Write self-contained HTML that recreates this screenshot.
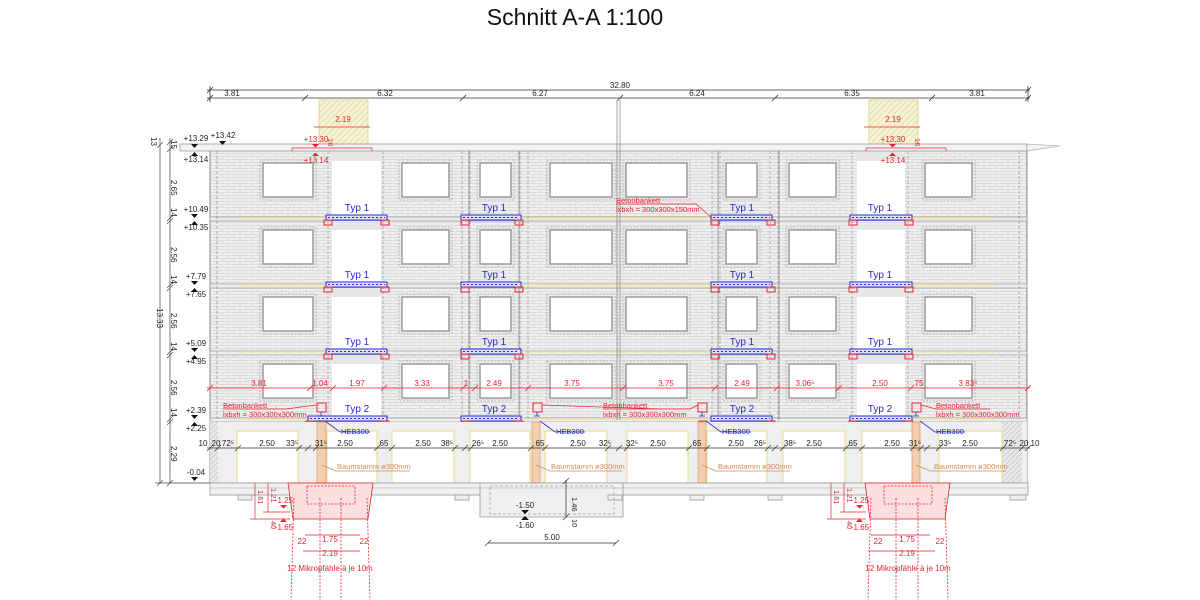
<!DOCTYPE html>
<html><head><meta charset="utf-8"><style>
html,body{margin:0;padding:0;background:#fff;width:1200px;height:600px;overflow:hidden}
svg{display:block;font-family:"Liberation Sans",sans-serif}
</style></head><body>
<svg width="1200" height="600" viewBox="0 0 1200 600" xmlns="http://www.w3.org/2000/svg" xmlns:xlink="http://www.w3.org/1999/xlink">
<defs>
<pattern id="brick" width="12" height="6" patternUnits="userSpaceOnUse">
<rect width="12" height="6" fill="#efefef"/>
<path d="M0 0.5H12M0 3.5H12M6 0.5V3.5M0 3.5V6M12 3.5V6" stroke="#d6d6d6" stroke-width="0.7" fill="none"/>
</pattern>
<pattern id="hatchy" width="6" height="6" patternUnits="userSpaceOnUse">
<rect width="6" height="6" fill="#f6f3d2"/>
<path d="M0 6L6 0" stroke="#d8d2a0" stroke-width="0.6"/>
</pattern>
<pattern id="hatchg" width="5" height="5" patternUnits="userSpaceOnUse">
<rect width="5" height="5" fill="#e8e8e8"/>
<path d="M0 5L5 0" stroke="#bbb" stroke-width="0.6"/>
</pattern>
<g id="wf">
<g fill="none" stroke="#aaa" stroke-width="0.8" stroke-dasharray="2,1.5">
<rect x="260" y="160" width="56" height="40"/><rect x="399" y="160" width="53" height="40"/><rect x="477" y="160" width="37" height="40"/><rect x="547" y="160" width="68" height="40"/><rect x="623" y="160" width="67" height="40"/><rect x="723" y="160" width="37" height="40"/><rect x="786" y="160" width="53" height="40"/><rect x="922" y="160" width="53" height="40"/>
</g>
<g fill="#fff" stroke="#a0a0a0" stroke-width="1.6">
<rect x="263" y="163" width="50" height="34"/><rect x="402" y="163" width="47" height="34"/><rect x="480" y="163" width="31" height="34"/><rect x="550" y="163" width="62" height="34"/><rect x="626" y="163" width="61" height="34"/><rect x="726" y="163" width="31" height="34"/><rect x="789" y="163" width="47" height="34"/><rect x="925" y="163" width="47" height="34"/>
</g>
</g>
<g id="bm">
<g fill="#dde0ff" stroke="#2a2ad0" stroke-width="1">
<rect x="461" y="215" width="60" height="5"/><rect x="711" y="215" width="61" height="5"/><rect x="850" y="215" width="62" height="5"/>
</g>
<g stroke="#2a2ad0" stroke-width="1" stroke-dasharray="2,2">
<line x1="463" y1="217.5" x2="519" y2="217.5"/><line x1="713" y1="217.5" x2="770" y2="217.5"/><line x1="852" y1="217.5" x2="910" y2="217.5"/>
</g>
</g>
</defs>

<text x="575" y="25" font-size="23" text-anchor="middle" fill="#111">Schnitt A-A 1:100</text>

<!-- top dims -->
<g stroke="#333" stroke-width="0.8" fill="none">
<line x1="207" y1="90" x2="1030" y2="90"/>
<line x1="207" y1="98" x2="1030" y2="98"/>
<path d="M207 93l6-6M1025 93l6-6M207 101l6-6M302 101l6-6M460 101l6-6M617 101l6-6M772 101l6-6M929 101l6-6M1025 101l6-6"/>
<line x1="210" y1="86" x2="210" y2="102"/><line x1="1028" y1="86" x2="1028" y2="102"/>
</g>
<g font-size="8" fill="#222" text-anchor="middle">
<text x="620" y="88">32.80</text>
<text x="232" y="96">3.81</text><text x="385" y="96">6.32</text><text x="540" y="96">6.27</text>
<text x="697" y="96">6.24</text><text x="852" y="96">6.35</text><text x="977" y="96">3.81</text>
</g>

<rect x="319" y="100" width="49" height="45" fill="url(#hatchy)" stroke="#d6d07a" stroke-width="0.8"/>
<rect x="869" y="100" width="49" height="45" fill="url(#hatchy)" stroke="#d6d07a" stroke-width="0.8"/>

<rect x="210" y="151" width="817" height="268" fill="url(#brick)"/>
<rect x="180" y="144" width="847" height="7" fill="#f3f3f3" stroke="#999" stroke-width="0.8"/>
<path d="M1027 144L1060 146L1027 151Z" fill="#f3f3f3" stroke="#999" stroke-width="0.6"/>
<line x1="210" y1="151" x2="210" y2="483" stroke="#888" stroke-width="1"/>
<line x1="1027" y1="151" x2="1027" y2="483" stroke="#888" stroke-width="1"/>

<g fill="#ececec" stroke="#9a9a9a" stroke-width="0.7">
<rect x="210" y="217" width="817" height="4"/>
<rect x="210" y="284" width="817" height="4"/>
<rect x="210" y="351" width="817" height="4"/>
<rect x="210" y="418" width="817" height="4"/>
</g>
<g stroke="#eee9a0" stroke-width="1.6">
<line x1="240" y1="218" x2="326" y2="218"/><line x1="520" y1="218" x2="711" y2="218"/><line x1="912" y1="218" x2="995" y2="218"/>
<line x1="240" y1="285" x2="326" y2="285"/><line x1="520" y1="285" x2="711" y2="285"/><line x1="912" y1="285" x2="995" y2="285"/>
<line x1="240" y1="352" x2="326" y2="352"/><line x1="520" y1="352" x2="711" y2="352"/><line x1="912" y1="352" x2="995" y2="352"/>
<line x1="240" y1="419" x2="326" y2="419"/><line x1="520" y1="419" x2="711" y2="419"/><line x1="912" y1="419" x2="995" y2="419"/>
</g>

<g fill="#fff">
<rect x="332" y="161" width="49" height="56"/><rect x="332" y="230" width="49" height="54"/><rect x="332" y="297" width="49" height="54"/><rect x="332" y="364" width="49" height="54"/>
<rect x="857" y="161" width="48" height="56"/><rect x="857" y="230" width="48" height="54"/><rect x="857" y="297" width="48" height="54"/><rect x="857" y="364" width="48" height="54"/>
</g>
<g fill="#e6e6e6">
<rect x="332" y="152" width="49" height="9"/><rect x="332" y="221" width="49" height="9"/><rect x="332" y="288" width="49" height="9"/><rect x="332" y="355" width="49" height="9"/>
<rect x="857" y="152" width="48" height="9"/><rect x="857" y="221" width="48" height="9"/><rect x="857" y="288" width="48" height="9"/><rect x="857" y="355" width="48" height="9"/>
</g>
<use xlink:href="#wf"/>
<use xlink:href="#wf" y="67"/>
<use xlink:href="#wf" y="134"/>
<use xlink:href="#wf" y="201"/>

<g stroke="#999" stroke-width="0.7" stroke-dasharray="3,2">
<line x1="217" y1="151" x2="217" y2="483"/><line x1="328" y1="151" x2="328" y2="483"/><line x1="383" y1="151" x2="383" y2="483"/>
<line x1="462" y1="151" x2="462" y2="483"/><line x1="470" y1="151" x2="470" y2="483"/><line x1="520" y1="151" x2="520" y2="483"/><line x1="528" y1="151" x2="528" y2="483"/>
<line x1="712" y1="151" x2="712" y2="483"/><line x1="720" y1="151" x2="720" y2="483"/><line x1="770" y1="151" x2="770" y2="483"/><line x1="778" y1="151" x2="778" y2="483"/>
<line x1="852" y1="151" x2="852" y2="483"/><line x1="908" y1="151" x2="908" y2="483"/><line x1="1019" y1="151" x2="1019" y2="483"/>
</g>
<g stroke="#888" stroke-width="0.8">
<line x1="469" y1="151" x2="469" y2="420"/><line x1="519" y1="151" x2="519" y2="420"/><line x1="617" y1="100" x2="617" y2="420"/><line x1="620" y1="100" x2="620" y2="420"/><line x1="718" y1="151" x2="718" y2="420"/><line x1="779" y1="151" x2="779" y2="420"/>
</g>

<!-- beams -->
<use xlink:href="#bm"/><use xlink:href="#bm" y="67"/><use xlink:href="#bm" y="134"/><use xlink:href="#bm" y="201"/>
<g fill="#dde0ff" stroke="#2a2ad0" stroke-width="1">
<rect x="326" y="215" width="61" height="5"/><rect x="326" y="282" width="61" height="5"/><rect x="326" y="349" width="61" height="5"/><rect x="308" y="416" width="79" height="5"/>
</g>
<g stroke="#2a2ad0" stroke-width="1" stroke-dasharray="2,2">
<line x1="328" y1="217.5" x2="385" y2="217.5"/><line x1="328" y1="284.5" x2="385" y2="284.5"/><line x1="328" y1="351.5" x2="385" y2="351.5"/><line x1="310" y1="418.5" x2="385" y2="418.5"/>
</g>
<g fill="none" stroke="#e23" stroke-width="1">
<rect x="324" y="220" width="8" height="5"/><rect x="381" y="220" width="8" height="5"/><rect x="461" y="220" width="8" height="5"/><rect x="515" y="220" width="8" height="5"/><rect x="711" y="220" width="8" height="5"/><rect x="767" y="220" width="8" height="5"/><rect x="849" y="220" width="8" height="5"/><rect x="905" y="220" width="8" height="5"/>
<rect x="324" y="287" width="8" height="5"/><rect x="381" y="287" width="8" height="5"/><rect x="461" y="287" width="8" height="5"/><rect x="515" y="287" width="8" height="5"/><rect x="711" y="287" width="8" height="5"/><rect x="767" y="287" width="8" height="5"/><rect x="849" y="287" width="8" height="5"/><rect x="905" y="287" width="8" height="5"/>
<rect x="324" y="354" width="8" height="5"/><rect x="381" y="354" width="8" height="5"/><rect x="461" y="354" width="8" height="5"/><rect x="515" y="354" width="8" height="5"/><rect x="711" y="354" width="8" height="5"/><rect x="767" y="354" width="8" height="5"/><rect x="849" y="354" width="8" height="5"/><rect x="905" y="354" width="8" height="5"/>
<rect x="306" y="421" width="8" height="5"/><rect x="381" y="421" width="8" height="5"/><rect x="461" y="421" width="8" height="5"/><rect x="515" y="421" width="8" height="5"/><rect x="699" y="421" width="8" height="5"/><rect x="767" y="421" width="8" height="5"/><rect x="849" y="421" width="8" height="5"/><rect x="905" y="421" width="8" height="5"/>
<rect x="317" y="403" width="9" height="9"/><rect x="533" y="403" width="9" height="9"/><rect x="698" y="403" width="9" height="9"/><rect x="912" y="403" width="9" height="9"/>
</g>
<g font-size="10" fill="#2a2ad0" text-anchor="middle">
<text x="357" y="211">Typ 1</text><text x="494" y="211">Typ 1</text><text x="742" y="211">Typ 1</text><text x="880" y="211">Typ 1</text>
<text x="357" y="278">Typ 1</text><text x="494" y="278">Typ 1</text><text x="742" y="278">Typ 1</text><text x="880" y="278">Typ 1</text>
<text x="357" y="345">Typ 1</text><text x="494" y="345">Typ 1</text><text x="742" y="345">Typ 1</text><text x="880" y="345">Typ 1</text>
<text x="357" y="412">Typ 2</text><text x="494" y="412">Typ 2</text><text x="742" y="412">Typ 2</text><text x="880" y="412">Typ 2</text>
</g>

<!-- ground floor -->
<rect x="217" y="422" width="810" height="61" fill="#efefef"/>
<rect x="210" y="422" width="8" height="61" fill="url(#hatchg)"/>
<rect x="1002" y="422" width="20" height="61" fill="url(#hatchg)"/>
<g fill="#fff" stroke="#e4dd80" stroke-width="1">
<rect x="237" y="431" width="61" height="52"/><rect x="327" y="431" width="50" height="52"/><rect x="392" y="431" width="62" height="52"/><rect x="470" y="431" width="60" height="52"/>
<rect x="545" y="431" width="62" height="52"/><rect x="627" y="431" width="61" height="52"/><rect x="707" y="431" width="60" height="52"/><rect x="783" y="431" width="62" height="52"/><rect x="862" y="431" width="50" height="52"/><rect x="939" y="431" width="63" height="52"/>
</g>
<g fill="#f2cfae" stroke="#d99b6a" stroke-width="0.7">
<rect x="317" y="422" width="9" height="61"/><rect x="532" y="422" width="8" height="61"/><rect x="698" y="422" width="8" height="61"/><rect x="912" y="422" width="8" height="61"/>
</g>
<g stroke="#2a2ad0" stroke-width="0.8" fill="none">
<path d="M321 412V416M318 416H324M537 412V416M534 416H540M702 412V416M699 416H705M916 412V416M913 416H919"/>
<path d="M325 421L340 432H370M540 421L555 432H585M706 421L721 432H751M920 421L935 432H965"/>
</g>
<g font-size="7.5" fill="#2a2ad0"><text x="341" y="434">HEB300</text><text x="556" y="434">HEB300</text><text x="722" y="434">HEB300</text><text x="936" y="434">HEB300</text></g>
<g stroke="#d98a55" stroke-width="0.7" fill="none">
<path d="M322 465L336 471H410M536 465L550 471H622M702 465L716 471H790M916 465L930 471H1006"/>
</g>
<g font-size="7.5" fill="#d98a55"><text x="337" y="469">Baumstamm ø300mm</text><text x="551" y="469">Baumstamm ø300mm</text><text x="718" y="469">Baumstamm ø300mm</text><text x="934" y="469">Baumstamm ø300mm</text></g>

<g font-size="7.5" fill="#e23">
<text x="223" y="408">Betonbankett</text><text x="223" y="417">lxbxh = 300x300x300mm</text>
<text x="603" y="408">Betonbankett</text><text x="603" y="417">lxbxh = 300x300x300mm</text>
<text x="936" y="408">Betonbankett</text><text x="936" y="417">lxbxh = 300x300x300mm</text>
<text x="616" y="203">Betonbankett</text><text x="616" y="212">lxbxh = 300x300x150mm</text>
</g>
<g stroke="#e23" stroke-width="0.7" fill="none">
<path d="M223 409H286L316 405M603 409H660L542 405M660 409H690L698 405M936 409H990M921 405L936 409M616 204H696L712 218"/>
</g>

<g stroke="#e23" stroke-width="0.8" fill="none">
<line x1="207" y1="388" x2="1030" y2="388"/>
<path d="M207 391l6-6M307 391l6-6M330 391l6-6M381 391l6-6M460 391l6-6M472 391l6-6M525 391l6-6M620 391l6-6M712 391l6-6M774 391l6-6M836 391l6-6M908 391l6-6M1025 391l6-6"/>
</g>
<g font-size="8" fill="#e23" text-anchor="middle">
<text x="259" y="386">3.81</text><text x="320" y="386">1.04</text><text x="357" y="386">1.97</text><text x="422" y="386">3.33</text><text x="466" y="386">1</text><text x="494" y="386">2.49</text><text x="572" y="386">3.75</text><text x="666" y="386">3.75</text><text x="742" y="386">2.49</text><text x="805" y="386">3.06⁵</text><text x="880" y="386">2.50</text><text x="919" y="386">75</text><text x="968" y="386">3.83⁵</text>
</g>

<g stroke="#333" stroke-width="0.7" fill="none">
<line x1="207" y1="448" x2="1030" y2="448"/>
<path d="M207 451l6-6M215 451l6-6M235 451l6-6M296 451l6-6M305 451l6-6M313 451l6-6M374 451l6-6M389 451l6-6M452 451l6-6M462 451l6-6M468 451l6-6M528 451l6-6M542 451l6-6M605 451l6-6M616 451l6-6M624 451l6-6M686 451l6-6M704 451l6-6M765 451l6-6M772 451l6-6M780 451l6-6M843 451l6-6M859 451l6-6M910 451l6-6M918 451l6-6M924 451l6-6M936 451l6-6M1000 451l6-6M1019 451l6-6M1025 451l6-6"/>
</g>
<g font-size="8" fill="#222" text-anchor="middle">
<text x="203" y="446">10</text><text x="216" y="446">20</text><text x="228" y="446">72⁵</text><text x="267" y="446">2.50</text><text x="292" y="446">33⁵</text><text x="321" y="446">31⁵</text><text x="345" y="446">2.50</text><text x="384" y="446">65</text><text x="423" y="446">2.50</text><text x="447" y="446">38⁵</text><text x="478" y="446">26⁵</text><text x="500" y="446">2.50</text><text x="540" y="446">65</text><text x="578" y="446">2.50</text><text x="605" y="446">32⁵</text><text x="632" y="446">32⁵</text><text x="658" y="446">2.50</text><text x="697" y="446">65</text><text x="736" y="446">2.50</text><text x="760" y="446">26⁵</text><text x="790" y="446">38⁵</text><text x="814" y="446">2.50</text><text x="853" y="446">65</text><text x="892" y="446">2.50</text><text x="915" y="446">31⁵</text><text x="945" y="446">33⁵</text><text x="970" y="446">2.50</text><text x="1010" y="446">72⁵</text><text x="1024" y="446">20</text><text x="1035" y="446">10</text>
</g>

<g fill="#f0f0f0" stroke="#999" stroke-width="0.8">
<rect x="210" y="483" width="818" height="12"/>
<rect x="480" y="483" width="143" height="34"/>
<rect x="238" y="495" width="14" height="5"/><rect x="455" y="495" width="14" height="5"/><rect x="608" y="495" width="14" height="5"/><rect x="690" y="495" width="14" height="5"/><rect x="768" y="495" width="14" height="5"/><rect x="1010" y="495" width="16" height="5"/>
</g>
<line x1="210" y1="488" x2="1028" y2="488" stroke="#aaa" stroke-width="0.6"/>
<rect x="490" y="486" width="124" height="28" fill="none" stroke="#999" stroke-width="0.7" stroke-dasharray="3,2"/>
<g font-size="8" fill="#222" text-anchor="middle"><text x="525" y="508">-1.50</text><text x="525" y="528">-1.60</text><text x="552" y="540">5.00</text></g>
<path d="M521 510h8l-4 4zM521 520h8l-4-4z" fill="#111"/>
<g stroke="#333" stroke-width="0.7"><line x1="488" y1="543" x2="616" y2="543"/><path d="M485 546l6-6M613 546l6-6M566 480V517M563 484l6-6M563 520l6-6"/></g>
<text x="572" y="497" font-size="7.5" fill="#222" transform="rotate(90 572 497)">1.46</text>
<text x="572" y="519" font-size="7.5" fill="#222" transform="rotate(90 572 519)">10</text>

<g fill="#fbdede" stroke="#e23" stroke-width="0.8">
<path d="M288 483H373L368 519H293Z"/>
<path d="M865 483H950L945 519H870Z"/>
</g>
<g stroke="#e23" stroke-width="0.8" stroke-dasharray="2,1.5" fill="none">
<rect x="307" y="486" width="48" height="18"/><rect x="884" y="486" width="48" height="18"/>
<path d="M294 498L291 600M320 498L320 600M341 498L341 600M367 498L370 600"/>
<path d="M871 498L868 600M896 498L896 600M918 498L918 600M945 498L948 600"/>
</g>
<g stroke="#e23" stroke-width="0.7" fill="none">
<path d="M255 483V519M268 483V512M250 519H290M263 512H290M305 535H360M303 551H360M871 535H930M868 551H935M831 483V519M844 483V512M827 519H866M840 512H866"/>
</g>
<g font-size="8" fill="#e23" text-anchor="middle">
<text x="284" y="503">-1.25</text><text x="284" y="530">-1.65</text><text x="330" y="542">1.75</text><text x="330" y="556">2.19</text><text x="302" y="544">22</text><text x="364" y="544">22</text><text x="330" y="571">12 Mikropfähle à je 10m</text>
<text x="860" y="503">-1.25</text><text x="860" y="530">-1.65</text><text x="907" y="542">1.75</text><text x="907" y="556">2.19</text><text x="878" y="544">22</text><text x="940" y="544">22</text><text x="908" y="571">12 Mikropfähle à je 10m</text>
<text x="343" y="122">2.19</text><text x="893" y="122">2.19</text>
<text x="316" y="142">+13.30</text><text x="316" y="163">+13.14</text><text x="893" y="142">+13.30</text><text x="893" y="163">+13.14</text>
</g>
<g font-size="7.5" fill="#e23">
<text x="258" y="490" transform="rotate(90 258 490)">1.61</text><text x="271" y="488" transform="rotate(90 271 488)">1.21</text><text x="271" y="521" transform="rotate(90 271 521)">40</text>
<text x="834" y="490" transform="rotate(90 834 490)">1.61</text><text x="847" y="488" transform="rotate(90 847 488)">1.21</text><text x="847" y="521" transform="rotate(90 847 521)">40</text>
<text x="328" y="138" transform="rotate(90 328 138)">16</text><text x="915" y="138" transform="rotate(90 915 138)">16</text>
</g>
<path d="M280 505h7l-3.5 3.5zM280 522h7l-3.5-3.5zM856 505h7l-3.5 3.5zM856 522h7l-3.5-3.5zM312 144h7l-3.5 3.5zM312 156h7l-3.5-3.5zM889 144h7l-3.5 3.5zM889 156h7l-3.5-3.5z" fill="#e23"/>
<g stroke="#e23" stroke-width="0.7" fill="none">
<line x1="314" y1="127" x2="370" y2="127"/><line x1="864" y1="127" x2="920" y2="127"/>
<path d="M292 151V148H372V151M866 151V148H946V151"/>
</g>

<g stroke="#444" stroke-width="0.7" fill="none">
<line x1="160" y1="138" x2="160" y2="483"/><line x1="170" y1="138" x2="170" y2="483"/>
<path d="M157 148l6-6M157 486l6-6M167 145l6-6M167 152l6-6M167 221l6-6M167 224l6-6M167 288l6-6M167 291l6-6M167 355l6-6M167 358l6-6M167 422l6-6M167 425l6-6M167 486l6-6"/>
<line x1="155" y1="483" x2="210" y2="483"/>
</g>
<g font-size="8" fill="#222">
<text x="151" y="137" transform="rotate(90 151 137)">13</text>
<text x="171" y="140" transform="rotate(90 171 140)">15</text>
<text x="171" y="180" transform="rotate(90 171 180)">2.65</text>
<text x="171" y="208" transform="rotate(90 171 208)">14</text>
<text x="171" y="247" transform="rotate(90 171 247)">2.56</text>
<text x="171" y="275" transform="rotate(90 171 275)">14</text>
<text x="171" y="313" transform="rotate(90 171 313)">2.56</text>
<text x="171" y="342" transform="rotate(90 171 342)">14</text>
<text x="171" y="380" transform="rotate(90 171 380)">2.56</text>
<text x="171" y="408" transform="rotate(90 171 408)">14</text>
<text x="171" y="446" transform="rotate(90 171 446)">2.29</text>
<text x="157" y="308" transform="rotate(90 157 308)">13.33</text>
</g>
<g font-size="8" fill="#222" text-anchor="middle">
<text x="196" y="141">+13.29</text><text x="196" y="162">+13.14</text><text x="223" y="138">+13.42</text>
<text x="196" y="212">+10.49</text><text x="196" y="230">+10.35</text>
<text x="196" y="279">+7.79</text><text x="196" y="297">+7.65</text>
<text x="196" y="346">+5.09</text><text x="196" y="364">+4.95</text>
<text x="196" y="413">+2.39</text><text x="196" y="431">+2.25</text>
<text x="196" y="475">-0.04</text>
</g>
<path d="M191 144h7l-3.5 4zM191 156h7l-3.5-4zM219 141h7l-3.5 4zM191 214h7l-3.5 4zM191 225h7l-3.5-4zM191 281h7l-3.5 4zM191 292h7l-3.5-4zM191 348h7l-3.5 4zM191 359h7l-3.5-4zM191 415h7l-3.5 4zM191 426h7l-3.5-4zM191 477h7l-3.5 4z" fill="#111"/>
</svg>
</body></html>
